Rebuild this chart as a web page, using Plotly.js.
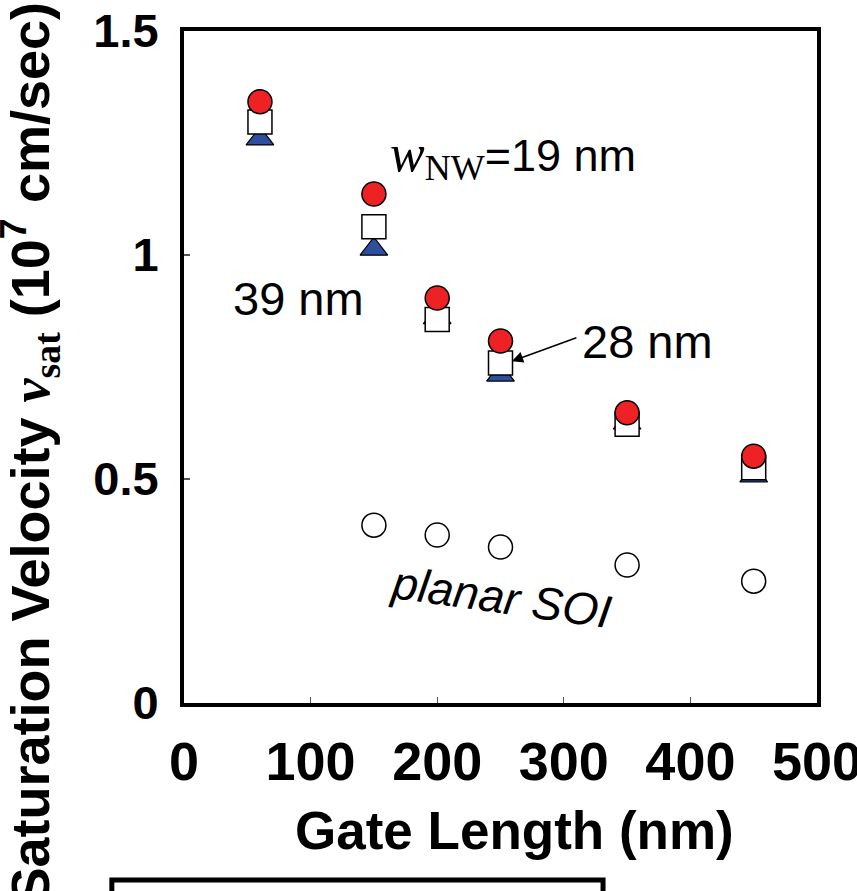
<!DOCTYPE html>
<html>
<head>
<meta charset="utf-8">
<script src="https://cdn.plot.ly/plotly-3.0.1.min.js"></script>
<style>html,body{margin:0;padding:0;background:#fff;}#chart{width:857px;height:891px;}</style>
</head>
<body>
<div id="chart"></div>
<script>
// Gate length (nm)
var gateLength = [60, 150, 200, 250, 350, 450];
// Saturation velocity (1e7 cm/sec) for nanowire widths
var vsatNW19 = [1.342, 1.136, 0.904, 0.808, 0.648, 0.551];
var vsatNW28 = [1.297, 1.063, 0.856, 0.759, 0.622, 0.525];
var vsatNW39 = [1.259, 1.013, 0.860, 0.732, 0.625, 0.507];
// Planar SOI
var gateLengthSOI = [150, 200, 250, 350, 450];
var vsatSOI = [0.397, 0.375, 0.348, 0.308, 0.272];
// Axis ticks
var xTicks = [0, 100, 200, 300, 400, 500];
var yTicks = [0, 0.5, 1, 1.5];
var yTickText = ['0', '0.5', '1', '1.5'];

var SANS = 'Arial, "Liberation Sans", sans-serif';

var traces = [
  {x: gateLength, y: vsatNW39, type: 'scatter', mode: 'markers', name: '39 nm',
   marker: {symbol: 'triangle-up', size: 24, color: '#2E4E9E', line: {color: '#000', width: 1.2}}},
  {x: gateLength, y: vsatNW28, type: 'scatter', mode: 'markers', name: '28 nm',
   marker: {symbol: 'square', size: 24, color: '#ffffff', line: {color: '#000', width: 1.5}}},
  {x: gateLength, y: vsatNW19, type: 'scatter', mode: 'markers', name: '19 nm',
   marker: {symbol: 'circle', size: 24, color: '#EE2224', line: {color: '#000', width: 1.5}}},
  {x: gateLengthSOI, y: vsatSOI, type: 'scatter', mode: 'markers', name: 'planar SOI',
   marker: {symbol: 'circle', size: 24, color: '#ffffff', line: {color: '#000', width: 1.5}}}
];

var layout = {
  width: 857, height: 891,
  margin: {l: 184, r: 40, t: 31, b: 188},
  paper_bgcolor: '#fff', plot_bgcolor: '#fff',
  showlegend: false,
  xaxis: {
    range: [0, 500], tickvals: xTicks, ticktext: xTicks.map(String),
    showgrid: false, zeroline: false,
    showline: true, mirror: true, linewidth: 4, linecolor: '#000',
    ticks: 'inside', ticklen: 6, tickwidth: 1.2, tickcolor: '#555',
    ticklabelstandoff: 8, ticklabeloverflow: 'allow',
    tickfont: {family: SANS, size: 54, color: '#000', weight: 'bold'}
  },
  yaxis: {
    range: [0, 1.5], tickvals: yTicks, ticktext: yTickText,
    showgrid: false, zeroline: false,
    showline: true, mirror: true, linewidth: 4, linecolor: '#000',
    ticks: 'inside', ticklen: 6, tickwidth: 1.2, tickcolor: '#555',
    ticklabelstandoff: 12,
    tickfont: {family: SANS, size: 47, color: '#000', weight: 'bold'}
  },
  annotations: [
    {xref: 'paper', yref: 'paper', x: -0.243, y: 0.373, xanchor: 'center', yanchor: 'middle',
     textangle: -90, showarrow: false,
     text: '<b>Saturation Velocity <span style="font-family:Liberation Serif"><i>v</i><sub>sat</sub></span> (10<sup>7</sup> cm/sec)</b>',
     font: {family: SANS, size: 54, color: '#000'}},
    {xref: 'paper', yref: 'paper', x: 0.522, y: -0.189, xanchor: 'center', yanchor: 'middle',
     showarrow: false, text: '<b>Gate Length (nm)</b>',
     font: {family: SANS, size: 53, color: '#000'}},
    {xref: 'x', yref: 'y', x: 161, y: 1.22, xanchor: 'left', yanchor: 'middle', showarrow: false,
     text: '<span style="font-family:Liberation Serif"><i><span style="font-size:52px">w</span></i><sub><span style="font-size:36px">NW</span></sub></span>=19 nm',
     font: {family: SANS, size: 45, color: '#000'}},
    {xref: 'x', yref: 'y', x: 37, y: 0.904, xanchor: 'left', yanchor: 'middle', showarrow: false,
     text: '39 nm', font: {family: SANS, size: 47, color: '#000'}},
    {xref: 'x', yref: 'y', x: 313, y: 0.808, xanchor: 'left', yanchor: 'middle', showarrow: false,
     text: '28 nm', font: {family: SANS, size: 47, color: '#000'}},
    {xref: 'x', yref: 'y', x: 259, y: 0.763, text: '', showarrow: true,
     ax: 66, ay: -24, arrowhead: 2, arrowsize: 1.4, arrowwidth: 1.6, arrowcolor: '#000', standoff: 0},
    {xref: 'x', yref: 'y', x: 250, y: 0.237, xanchor: 'center', yanchor: 'middle', showarrow: false,
     textangle: 8, text: '<i>planar SOI</i>', font: {family: SANS, size: 46, color: '#000'}}
  ],
  shapes: [
    {type: 'rect', xref: 'paper', yref: 'paper', x0: -0.114, x1: 0.662, y0: -0.40, y1: -0.2634,
     line: {color: '#000', width: 5}, fillcolor: 'rgba(0,0,0,0)'}
  ]
};

Plotly.newPlot('chart', traces, layout, {displayModeBar: false, staticPlot: true});
</script>
</body>
</html>
